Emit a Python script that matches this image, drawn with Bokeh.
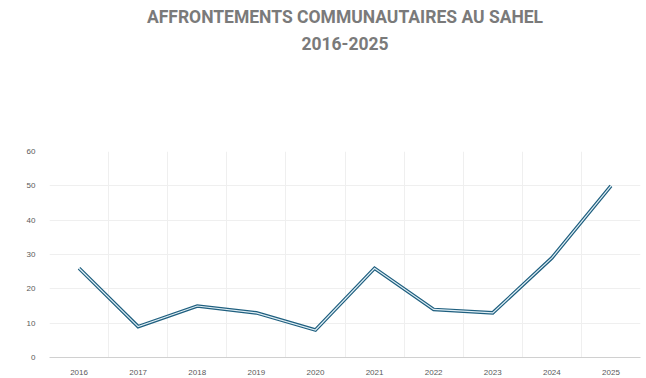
from bokeh.plotting import figure
from bokeh.models import FixedTicker, Range1d, Title
from bokeh.embed import file_html
from bokeh.resources import INLINE

years = [2016, 2017, 2018, 2019, 2020, 2021, 2022, 2023, 2024, 2025]
clashes = [26, 9, 15, 13, 8, 26, 14, 13, 29, 50]
y_ticks = [0, 10, 20, 30, 40, 50, 60]
title_lines = ["AFFRONTEMENTS COMMUNAUTAIRES AU SAHEL", "2016-2025"]

p = figure(width=646, height=378, output_backend="svg", toolbar_location=None,
           x_range=Range1d(years[0] - 0.5, years[-1] + 0.5),
           y_range=Range1d(y_ticks[0], y_ticks[-1]),
           min_border_left=49, min_border_right=6, min_border_top=0,
           min_border_bottom=21)
p.outline_line_color = None
p.background_fill_color = "white"
p.border_fill_color = "white"

# blank spacer title next to the frame, then the two title lines above it
p.add_layout(Title(text=" ", text_font_size="1px", standoff=95), "above")
for t in [title_lines[1], title_lines[0]]:
    p.add_layout(Title(text=t, align="center", offset=3, standoff=8,
                       text_font="Roboto", text_font_size="17.5px",
                       text_font_style="bold", text_color="#7a7a7a"), "above")

# lines
p.line(years, clashes, line_color="#1f5f7f", line_width=3.6, line_join="miter")
p.line(years, clashes, line_color="#dfeef5", line_width=1.2, line_join="miter")

# axes
p.xaxis.ticker = FixedTicker(ticks=years)
p.yaxis.ticker = FixedTicker(ticks=y_ticks)
for ax in (p.xaxis[0], p.yaxis[0]):
    ax.major_tick_line_color = None
    ax.minor_tick_line_color = None
    ax.major_label_text_font = "Liberation Sans"
    ax.major_label_text_font_size = "8px"
    ax.major_label_text_color = "#595959"
p.xaxis.axis_line_color = "#d0d0d0"
p.xaxis.major_label_standoff = 6
p.yaxis.axis_line_color = None
p.yaxis.major_label_standoff = 8

p.xgrid.ticker = FixedTicker(ticks=[y + 0.5 for y in [years[0] - 1] + years])
p.xgrid.grid_line_color = "#efefef"
p.ygrid.grid_line_color = "#efefef"

open("out.html", "w").write(file_html(p, INLINE))
